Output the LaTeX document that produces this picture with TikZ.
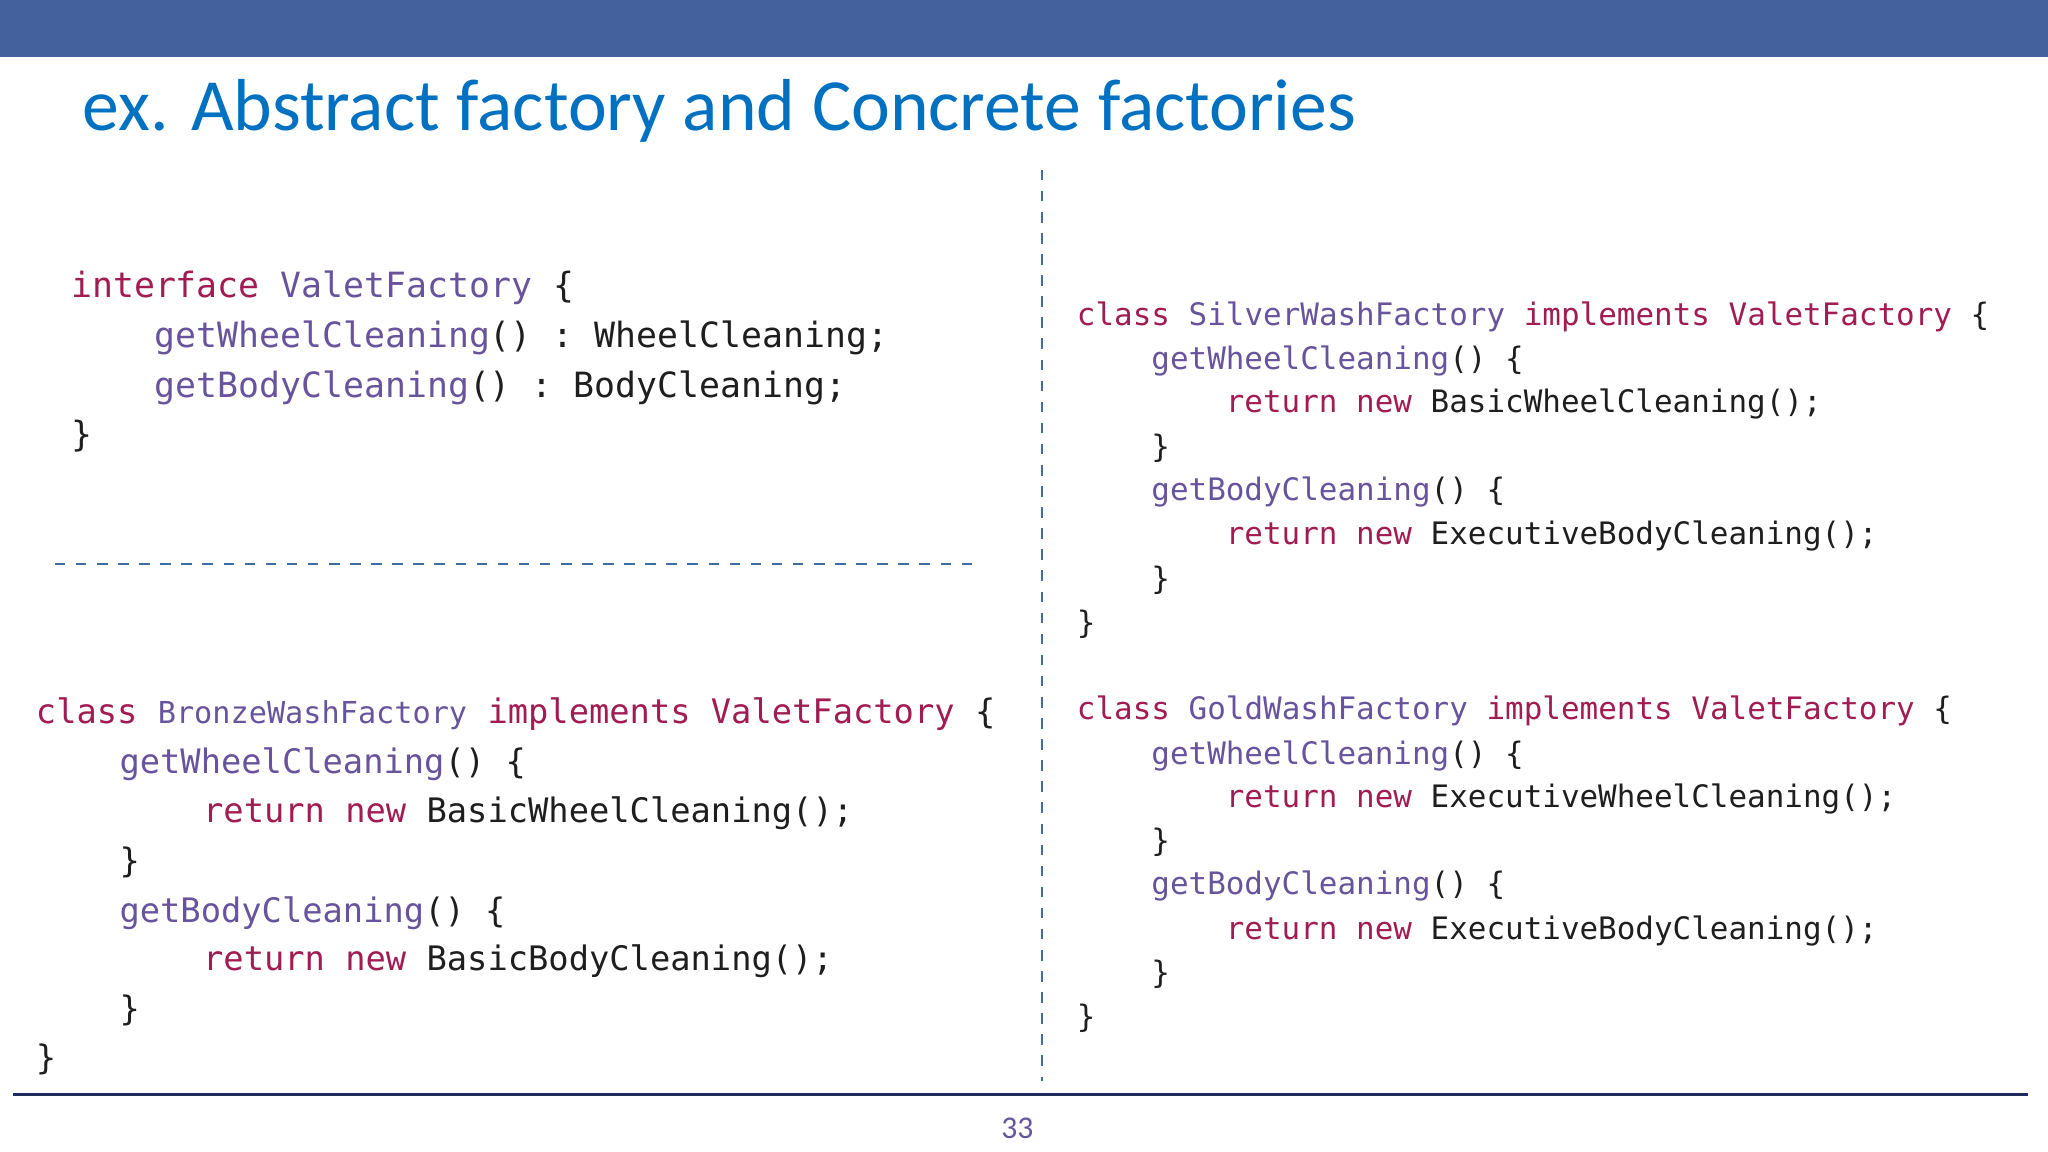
\documentclass[tikz,border=0pt]{standalone}
\usepackage{fontspec}
\setmainfont{Carlito}
\setmonofont{DejaVu Sans Mono}
\definecolor{barblue}{RGB}{68,97,158}
\definecolor{titleblue}{RGB}{0,112,192}
\definecolor{kwred}{RGB}{160,28,82}
\definecolor{fnpurple}{RGB}{104,84,156}
\definecolor{codeblack}{RGB}{30,30,30}
\definecolor{rulenavy}{RGB}{31,42,96}
\definecolor{sepblue}{RGB}{60,110,160}
\newcommand{\kw}[1]{\textcolor{kwred}{#1}}
\newcommand{\fn}[1]{\textcolor{fnpurple}{#1}}
\begin{document}
\begin{tikzpicture}[x=0.01306cm, y=-0.01306cm,
	codeA/.style={anchor=base west, inner sep=0pt, text=codeblack, font=\ttfamily\fontsize{9.9}{12}\selectfont},
	codeB/.style={anchor=base west, inner sep=0pt, text=codeblack, font=\ttfamily\fontsize{9.6}{12}\selectfont},
	codeC/.style={anchor=base west, inner sep=0pt, text=codeblack, font=\ttfamily\fontsize{8.8}{11}\selectfont},
	sep/.style={sepblue, dashed, line width=0.6pt}]
	\useasboundingbox (0,0) rectangle (1568,882);
	\fill[barblue] (0,0) rectangle (1568,44);
	\node[anchor=base west, inner sep=0pt, text=titleblue] (title) at (63,100)
		{\resizebox{12.73cm}{!}{ex. Abstract factory and Concrete factories}};
	% interface
	\node[codeA] (i1) at (54,228) {\kw{interface} \fn{ValetFactory} \{};
	\node[codeA] (i2) at (118,266) {\fn{getWheelCleaning}() : WheelCleaning;};
	\node[codeA] (i3) at (118,304) {\fn{getBodyCleaning}() : BodyCleaning;};
	\node[codeA] (i4) at (54,342) {\}};
	% bronze
	\node[codeB] (b1) at (27,554) {\kw{class} \fn{\fontsize{8.6}{10}\selectfont BronzeWashFactory} \kw{implements ValetFactory} \{};
	\node[codeB] (b2) at (91,592) {\fn{getWheelCleaning}() \{};
	\node[codeB] (b3) at (155,630) {\kw{return new} BasicWheelCleaning();};
	\node[codeB] (b4) at (91,668) {\}};
	\node[codeB] (b5) at (91,706) {\fn{getBodyCleaning}() \{};
	\node[codeB] (b6) at (155,743) {\kw{return new} BasicBodyCleaning();};
	\node[codeB] (b7) at (91,781) {\}};
	\node[codeB] (b8) at (27,819) {\}};
	% silver
	\node[codeC] (s1) at (824,249) {\kw{class} \fn{SilverWashFactory} \kw{implements ValetFactory} \{};
	\node[codeC] (s2) at (881,283) {\fn{getWheelCleaning}() \{};
	\node[codeC] (s3) at (938,316) {\kw{return new} BasicWheelCleaning();};
	\node[codeC] (s4) at (881,350) {\}};
	\node[codeC] (s5) at (881,383) {\fn{getBodyCleaning}() \{};
	\node[codeC] (s6) at (938,417) {\kw{return new} ExecutiveBodyCleaning();};
	\node[codeC] (s7) at (881,451) {\}};
	\node[codeC] (s8) at (824,485) {\}};
	% gold
	\node[codeC] (g1) at (824,551) {\kw{class} \fn{GoldWashFactory} \kw{implements ValetFactory} \{};
	\node[codeC] (g2) at (881,585) {\fn{getWheelCleaning}() \{};
	\node[codeC] (g3) at (938,618) {\kw{return new} ExecutiveWheelCleaning();};
	\node[codeC] (g4) at (881,652) {\}};
	\node[codeC] (g5) at (881,685) {\fn{getBodyCleaning}() \{};
	\node[codeC] (g6) at (938,719) {\kw{return new} ExecutiveBodyCleaning();};
	\node[codeC] (g7) at (881,753) {\}};
	\node[codeC] (g8) at (824,787) {\}};
	% separators
	\draw[sep] (42,432) -- (746,432);
	\draw[sep] (798,130) -- (798,828);
	\draw[rulenavy, line width=0.8pt] (10,838) -- (1553,838);
	\node[text=fnpurple, font=\fontsize{9}{10}\selectfont] (page) at (779,864) {33};
\end{tikzpicture}
\end{document}
